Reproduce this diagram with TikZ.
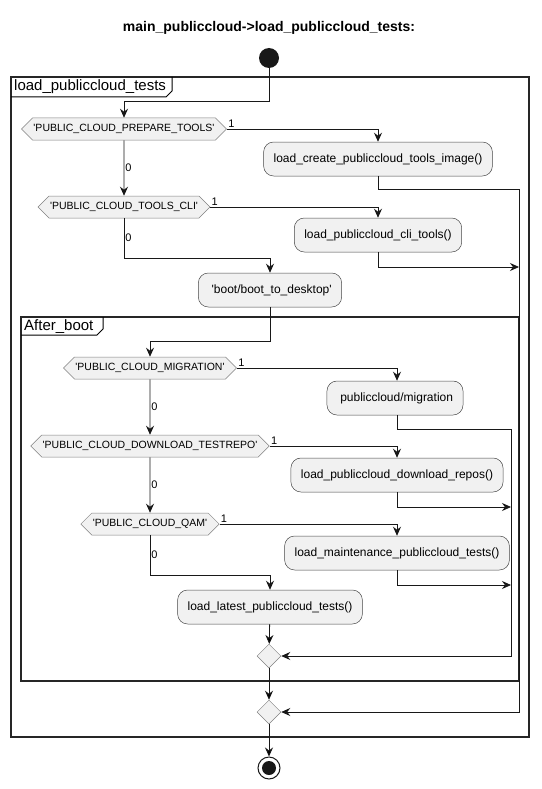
\documentclass[tikz,border=0pt]{standalone}
\usepackage{fontspec}
\setmainfont{Liberation Sans}
\usetikzlibrary{arrows.meta,shapes.geometric,shapes.symbols}
\definecolor{boxfill}{HTML}{F1F1F1}
\definecolor{ink}{HTML}{181818}
\newcommand{\qs}{\textquotesingle}
\tikzset{
  act/.style={draw=ink!80, line width=0.5pt, fill=boxfill, rounded corners=10pt,
    minimum height=34pt, inner xsep=10pt, font=\fontsize{12}{14}\selectfont},
  cond/.style={signal, signal to=west and east, signal pointer angle=90, draw=gray,
    line width=0.5pt, fill=boxfill, minimum height=22pt, inner xsep=1pt, inner ysep=0pt,
    font=\fontsize{10.5}{12}\selectfont},
  merge/.style={diamond, draw=gray, line width=0.5pt, fill=boxfill, minimum size=24pt, inner sep=0pt},
  flow/.style={draw=ink, line width=0.8pt, -{Stealth[length=9pt,width=8pt,inset=3pt]}},
  lbl/.style={font=\fontsize{11}{12}\selectfont, inner sep=1pt},
  frame/.style={draw=black!85, line width=1.4pt},
}
\begin{document}
\begin{tikzpicture}[x=1pt,y=-1pt]
  \useasboundingbox (0,0) rectangle (541,789);
  \node[font=\bfseries\fontsize{14}{16}\selectfont] (title) at (269,28) {main\_publiccloud->load\_publiccloud\_tests:};
  % frames
  \draw[frame] (11,77) rectangle (529,737);
  \node[anchor=north west, inner sep=2pt, font=\fontsize{15}{17}\selectfont] (outertab) at (12,77) {load\_publiccloud\_tests};
  \draw[line width=1pt] (11,97) -- (166,97) -- (172,91) -- (172,77);
  \draw[frame] (21,317) rectangle (519,681);
  \node[anchor=north west, inner sep=2pt, font=\fontsize{15}{17}\selectfont] (innertab) at (22,317) {After\_boot};
  \draw[line width=1pt] (21,335) -- (97,335) -- (103,329) -- (103,317);
  % nodes
  \node[circle, fill=ink, minimum size=20pt, inner sep=0pt] (start) at (269,58) {};
  \node[cond] (hex1) at (124,129) {\qs PUBLIC\_CLOUD\_PREPARE\_TOOLS\qs};
  \node[act] (box1) at (378,159) {load\_create\_publiccloud\_tools\_image()};
  \node[cond] (hex2) at (124,207) {\qs PUBLIC\_CLOUD\_TOOLS\_CLI\qs};
  \node[act] (box2) at (378,235) {load\_publiccloud\_cli\_tools()};
  \node[act] (boot) at (270,290) {\ \qs boot/boot\_to\_desktop\qs};
  \node[cond] (hex3) at (150,368) {\qs PUBLIC\_CLOUD\_MIGRATION\qs};
  \node[act] (box3) at (395,398) {\ publiccloud/migration};
  \node[cond] (hex4) at (150,446) {\qs PUBLIC\_CLOUD\_DOWNLOAD\_TESTREPO\qs};
  \node[act] (box4) at (397,475) {load\_publiccloud\_download\_repos()};
  \node[cond] (hex5) at (150,524) {\qs PUBLIC\_CLOUD\_QAM\qs};
  \node[act] (box5) at (397,553) {load\_maintenance\_publiccloud\_tests()};
  \node[act] (latest) at (270,607) {load\_latest\_publiccloud\_tests()};
  \node[merge] (m1) at (269,656) {};
  \node[merge] (m2) at (269,712) {};
  \node[circle, draw=ink, line width=1pt, fill=white, minimum size=22pt, inner sep=0pt,
    path picture={\fill[ink] (path picture bounding box.center) circle (7pt);}] (stop) at (269,768) {};
  \coordinate (r1) at (519,189);
  \coordinate (r2) at (519,267);
  \coordinate (r3) at (511,429);
  \coordinate (r4) at (511,507);
  \coordinate (r5) at (511,585);
  % connectors
  \draw[flow] (start) -- ++(0,43) -| (hex1);
  \draw[flow] (hex1.east) -| node[lbl, pos=0, anchor=south west] {1} (box1);
  \draw[flow] (hex1) -- node[lbl, right] {0} (hex2);
  \draw[flow] (box1) |- (r1) |- (m2);
  \draw[flow] (hex2.east) -| node[lbl, pos=0, anchor=south west] {1} (box2);
  \draw[flow] (box2) |- (r2);
  \draw[flow] (hex2) -- ++(0,51) node[lbl, midway, right] {0} -| (boot);
  \draw[flow] (boot) -- ++(0,51) -| (hex3);
  \draw[flow] (hex3.east) -| node[lbl, pos=0, anchor=south west] {1} ([xshift=2pt]box3.north);
  \draw[flow] ([xshift=2pt]box3.south) |- (r3) |- (m1);
  \draw[flow] (hex3) -- node[lbl, right] {0} (hex4);
  \draw[flow] (hex4.east) -| node[lbl, pos=0, anchor=south west] {1} (box4);
  \draw[flow] (box4) |- (r4);
  \draw[flow] (hex4) -- node[lbl, right] {0} (hex5);
  \draw[flow] (hex5.east) -| node[lbl, pos=0, anchor=south west] {1} (box5);
  \draw[flow] (box5) |- (r5);
  \draw[flow] (hex5) -- ++(0,51) node[lbl, midway, right] {0} -| (latest);
  \path[flow] (latest) edge (m1)
              (m1) edge (m2)
              (m2) edge (stop);
\end{tikzpicture}
\end{document}
